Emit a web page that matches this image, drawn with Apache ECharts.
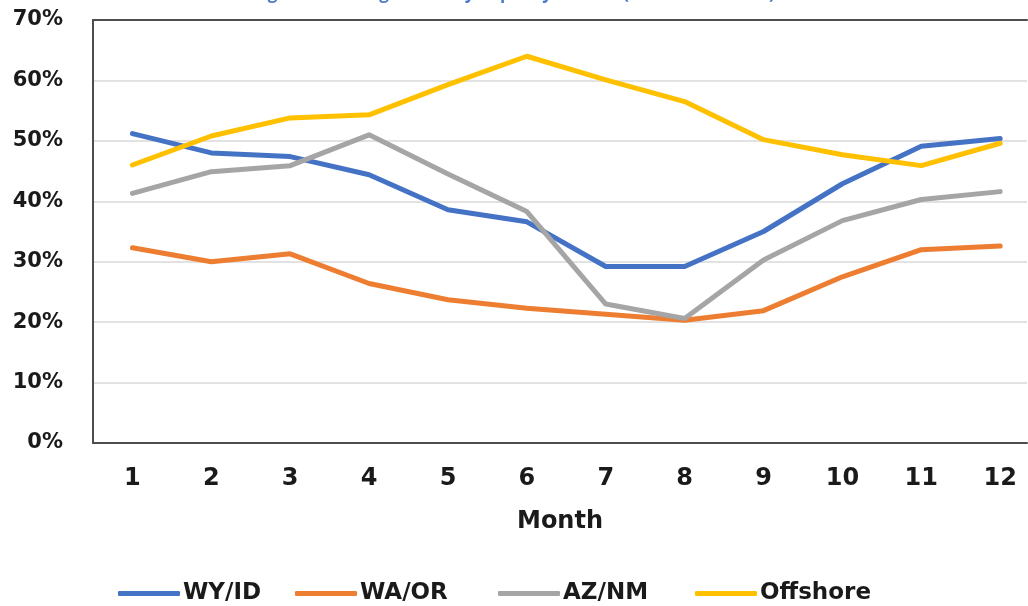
<!DOCTYPE html>
<html>
<head>
<meta charset="utf-8">
<style>
  html, body { margin: 0; padding: 0; background: #ffffff; }
  #chart { width: 1028px; height: 606px; }
</style>
<script src="https://cdn.jsdelivr.net/npm/echarts@6/dist/echarts.min.js"></script>
</head>
<body>
<div id="chart"></div>
<script>
// Monthly average capacity factors (%) by wind resource area
const months   = [1, 2, 3, 4, 5, 6, 7, 8, 9, 10, 11, 12];
const wyId     = [51.2, 48.0, 47.4, 44.4, 38.6, 36.6, 29.2, 29.2, 35.0, 42.9, 49.1, 50.4];
const waOr     = [32.3, 30.0, 31.3, 26.4, 23.7, 22.3, 21.3, 20.3, 21.9, 27.5, 32.0, 32.6];
const azNm     = [41.3, 44.9, 45.9, 51.0, 44.5, 38.3, 23.0, 20.6, 30.3, 36.8, 40.3, 41.6];
const offshore = [46.0, 50.8, 53.8, 54.3, 59.3, 64.0, 60.1, 56.5, 50.2, 47.7, 45.9, 49.6];
const seriesNames = ['WY/ID', 'WA/OR', 'AZ/NM', 'Offshore'];
const yTicks = { min: 0, max: 70, step: 10 };

const colors = ['#4472C4', '#ED7D31', '#A5A5A5', '#FFC000'];
const labelFont = 'DejaVu Sans';
const textColor = '#1a1a1a';
const frameColor = '#4d4d4d';

// The month axis runs half a slot past each end; the page crops its right side.
const xMin = 0.5;
const xMax = 12.34;

// Left edge of each legend entry along the bottom row
const legendLefts = [113, 290, 493, 690];

const chart = echarts.init(document.getElementById('chart'), null, { renderer: 'canvas' });

function lineSeries(name, values, color) {
  return {
    name: name,
    type: 'line',
    data: months.map((m, i) => [m, values[i]]),
    showSymbol: false,
    symbol: 'none',
    smooth: false,
    clip: false,
    lineStyle: { width: 5, color: color, join: 'round', cap: 'round' },
    itemStyle: { color: color },
    emphasis: { disabled: true }
  };
}

function legendEntry(name, left) {
  return {
    data: [name],
    left: left,
    top: 577,
    icon: 'roundRect',
    itemWidth: 62,
    itemHeight: 5,
    textStyle: {
      color: textColor,
      fontFamily: labelFont,
      fontWeight: 'bold',
      fontSize: 23,
      padding: [0, 0, 0, -2]
    }
  };
}

chart.setOption({
  animation: false,
  backgroundColor: '#ffffff',
  title: {
    text: 'Figure 4: Average Monthly Capacity Factors (2019 \u2013 2021 Data)',
    left: 'center',
    top: -19,
    textStyle: {
      color: '#4a7bc8',
      fontFamily: 'Open Sans',
      fontSize: 17,
      fontWeight: 'bold'
    }
  },
  grid: {
    left: 93,
    top: 20,
    right: 1,
    height: 423,
    show: false
  },
  legend: seriesNames.map((n, i) => legendEntry(n, legendLefts[i])),
  xAxis: [
    {
      type: 'value',
      min: xMin,
      max: xMax,
      position: 'bottom',
      name: 'Month',
      nameLocation: 'middle',
      nameGap: 67,
      nameTextStyle: {
        color: textColor,
        fontFamily: labelFont,
        fontWeight: 'bold',
        fontSize: 24
      },
      axisLine: { show: true, onZero: false, lineStyle: { color: frameColor, width: 2 } },
      axisTick: { show: false },
      axisLabel: {
        customValues: months,
        formatter: (v) => String(v),
        color: textColor,
        fontFamily: labelFont,
        fontWeight: 'bold',
        fontSize: 24,
        margin: 24
      },
      splitLine: { show: false }
    },
    {
      // frame line along the top of the plot
      type: 'value',
      min: xMin,
      max: xMax,
      position: 'top',
      axisLine: { show: true, onZero: false, lineStyle: { color: frameColor, width: 2 } },
      axisTick: { show: false },
      axisLabel: { show: false },
      splitLine: { show: false }
    }
  ],
  yAxis: {
    type: 'value',
    min: yTicks.min,
    max: yTicks.max,
    interval: yTicks.step,
    axisLine: { show: true, onZero: false, lineStyle: { color: frameColor, width: 2 } },
    axisTick: { show: false },
    axisLabel: {
      formatter: '{value}%',
      color: textColor,
      fontFamily: labelFont,
      fontWeight: 'bold',
      fontSize: 21,
      margin: 30
    },
    splitLine: { show: true, lineStyle: { color: '#d9d9d9', width: 1.5 } }
  },
  series: [
    lineSeries(seriesNames[0], wyId, colors[0]),
    lineSeries(seriesNames[1], waOr, colors[1]),
    lineSeries(seriesNames[2], azNm, colors[2]),
    lineSeries(seriesNames[3], offshore, colors[3])
  ]
});
</script>
</body>
</html>
